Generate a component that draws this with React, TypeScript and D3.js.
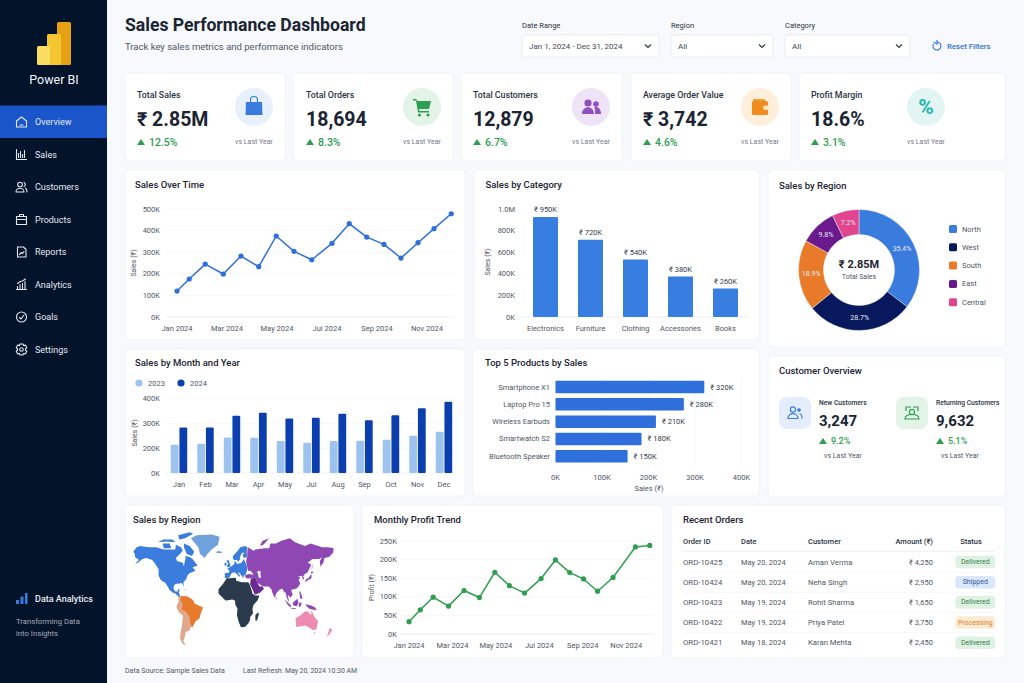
import * as d3 from 'd3';
import React from 'react';

// ---- data ----
const navItems = ['Overview', 'Sales', 'Customers', 'Products', 'Reports', 'Analytics', 'Goals', 'Settings'];

const kpiTitles = ['Total Sales', 'Total Orders', 'Total Customers', 'Average Order Value', 'Profit Margin'];
const kpiValues = ['₹ 2.85M', '18,694', '12,879', '₹ 3,742', '18.6%'];
const kpiDeltas = ['12.5%', '8.3%', '6.7%', '4.6%', '3.1%'];

const monthNames = ['Jan', 'Feb', 'Mar', 'Apr', 'May', 'Jun', 'Jul', 'Aug', 'Sep', 'Oct', 'Nov', 'Dec'];
const trendTickMonths = [0, 2, 4, 6, 8, 10];

// the trend lines carry 17 points over 12 months, so each point keeps its month position
const salesPointMonths = [0, 0.49, 1.13, 1.85, 2.56, 3.27, 3.97, 4.68, 5.39, 6.2, 6.89, 7.59, 8.28, 8.96, 9.64, 10.28, 10.97];
const salesOverTime = [120, 176, 245, 199, 282, 233, 375, 304, 265, 341, 432, 370, 336, 273, 344, 409, 478];
const profitPointMonths = [0, 0.52, 1.11, 1.82, 2.53, 3.24, 3.95, 4.62, 5.32, 6.08, 6.74, 7.4, 8.03, 8.68, 9.39, 10.42, 11.08];
const profitTrend = [33, 65, 99, 75, 117, 98, 166, 130, 110, 149, 199, 165, 148, 115, 152, 234, 238];

const categories = ['Electronics', 'Furniture', 'Clothing', 'Accessories', 'Books'];
const categoryLabels = [950, 720, 540, 380, 260];
// bars in the picture sit a little off their printed labels
const categoryBars = [926, 716, 533, 376, 265];

const regions = ['North', 'West', 'South', 'East', 'Central'];
const regionShare = [35.4, 28.7, 18.9, 9.8, 7.2];
const regionColors = ['#3a7bde', '#07195c', '#e87a2a', '#6a1a8c', '#e0458e'];

const barMonths = ['Jan', 'Feb', 'Mar', 'Apr', 'May', 'Jul', 'Aug', 'Sep', 'Oct', 'Nov', 'Dec'];
const sales2023 = [216, 220, 245, 244, 231, 224, 231, 232, 236, 252, 268];
const sales2024 = [285, 285, 331, 343, 320, 323, 339, 313, 333, 360, 385];
const barYTicks = [0, 200, 300, 400];

const products = ['Smartphone X1', 'Laptop Pro 15', 'Wireless Earbuds', 'Smartwatch S2', 'Bluetooth Speaker'];
const productLabels = [320, 280, 210, 180, 150];
const productBars = [320, 276, 216, 185, 155];

const orderIds = ['ORD-10425', 'ORD-10424', 'ORD-10423', 'ORD-10422', 'ORD-10421'];
const orderDates = ['May 20, 2024', 'May 20, 2024', 'May 19, 2024', 'May 19, 2024', 'May 18, 2024'];
const orderCustomers = ['Aman Verma', 'Neha Singh', 'Rohit Sharma', 'Priya Patel', 'Karan Mehta'];
const orderAmounts = ['₹ 4,250', '₹ 2,950', '₹ 1,650', '₹ 3,750', '₹ 2,450'];
const orderStatus = ['Delivered', 'Shipped', 'Delivered', 'Processing', 'Delivered'];

// rough continent outlines, lon/lat
const northAmerica = [
  [[-168, 66], [-162, 70], [-156, 71], [-141, 70], [-128, 70], [-115, 68], [-108, 68], [-95, 68], [-94, 72], [-85, 70], [-82, 67], [-87, 64], [-94, 60], [-92, 57], [-82, 55], [-80, 51], [-79, 55], [-77, 60], [-78, 62], [-70, 61], [-65, 59], [-60, 55], [-56, 52], [-65, 50], [-60, 46], [-66, 44], [-70, 43], [-74, 40], [-76, 35], [-81, 31], [-80, 25], [-82, 28], [-84, 30], [-90, 29], [-94, 29], [-97, 27], [-98, 22], [-95, 18], [-91, 18], [-90, 21], [-87, 21], [-89, 16], [-88, 15], [-87, 11], [-84, 9], [-85, 7.5], [-90, 11], [-95, 15], [-99, 16], [-105, 20], [-109, 26], [-113, 31], [-117, 32], [-121, 35], [-124, 40], [-124, 48], [-130, 54], [-135, 58], [-145, 60], [-152, 59], [-160, 55], [-165, 54], [-158, 58], [-165, 61], [-165, 64]],
  [[-80, 73], [-70, 71], [-62, 66], [-66, 62], [-75, 64], [-80, 70]],
  [[-117, 73], [-105, 73], [-102, 69], [-115, 69]],
  [[-90, 79], [-70, 81], [-64, 80], [-78, 77], [-88, 76]],
  [[-125, 74], [-116, 76], [-100, 76], [-95, 74], [-110, 74.5]],
  [[-84, 22], [-75, 20], [-78, 20], [-82, 22]],
];
const greenland = [[[-68, 77], [-58, 79], [-32, 79.5], [-18, 78], [-21, 72], [-32, 68], [-42, 62], [-44, 60], [-52, 64], [-55, 70], [-64, 75]]];
const europe = [
  [[-9, 37], [-9, 43], [-2, 43.5], [-1, 46], [-4.5, 48.5], [2, 51], [7, 53.5], [8.5, 57], [10.5, 56], [11, 54], [19, 54.5], [22, 57], [24, 59], [27, 55], [30, 50], [29, 45], [27, 41], [24, 40], [23, 36.5], [20, 40], [18, 42], [13.5, 45], [16, 41], [18, 40], [16, 38], [12, 42], [8, 44], [3, 43], [0, 39], [-2, 36.8], [-6, 36]],
  [[5, 59], [5, 62], [12, 66], [18, 70], [26, 71], [30, 70], [29, 65], [30, 61], [24, 60], [22, 63], [25, 65], [21, 65], [17, 61], [18, 59], [14, 56], [12, 58], [8, 58]],
  [[-5, 50], [1, 51], [0, 54], [-3, 58.5], [-6, 57], [-3, 54], [-5, 52]],
  [[-10, 52], [-6, 52], [-6, 55], [-9, 55]],
  [[-24, 65], [-14, 65], [-14, 66], [-22, 66.5]],
];
const asia = [
  [[26, 40], [28, 41], [33, 42], [41, 41], [37, 45], [34, 46], [31, 46], [30, 50], [28, 56], [29, 60], [30, 61], [30, 65], [31, 70], [41, 67], [44, 68], [60, 69], [68, 69], [70, 73], [80, 73], [88, 75], [104, 77], [113, 74], [130, 71], [140, 73], [160, 70], [170, 70], [180, 69], [179, 65], [172, 61], [164, 60], [162, 55], [157, 51], [156, 57], [160, 61], [155, 59], [143, 59], [135, 55], [141, 53], [135, 44], [130, 42], [127, 39], [129, 36], [126, 34.5], [126, 37], [125, 39.5], [121, 39], [118, 39], [122, 37], [119, 34], [122, 30], [120, 26], [115, 22], [110, 21], [106, 20], [109, 13], [105, 9], [100, 13], [103, 2], [100, 6], [98, 10], [97, 16], [94, 17], [91, 22], [87, 21], [80, 15], [78, 8], [73, 17], [72, 21], [67, 25], [57, 25], [52, 28], [48, 30], [44, 37], [36, 36.5], [30, 36], [27, 37]],
  [[130, 31], [136, 34], [141, 36], [142, 40], [140, 41], [137, 37], [132, 35]],
  [[140, 42], [145, 43.5], [142, 45.5]],
  [[142, 46], [143, 50], [143, 54], [142, 52]],
  [[80, 9.5], [82, 7], [80.5, 6]],
  [[120, 18], [122, 18], [124, 13], [126, 7], [122, 7], [121, 13]],
  [[95, 5.5], [100, 2], [106, -3], [105, -6], [100, -2]],
  [[109, 1], [117, 7], [119, 1], [116, -4], [110, -3]],
  [[105, -6.5], [114, -7], [114, -8.5], [106, -7.5]],
  [[119, -5], [120, 1], [125, 1], [122, -5]],
  [[131, -1], [141, -3], [148, -6], [150, -10], [143, -9], [138, -8], [133, -4]],
  [[52, 71], [56, 75], [68, 77], [58, 72]],
];
const arabia = [[[35, 29], [36, 36], [44, 37], [48, 30], [51, 25], [56, 25], [59, 22], [52, 16], [43, 13], [39, 21], [35, 28]]];
const africa = [
  [[-6, 36], [10, 37], [11, 33], [20, 31], [32, 31], [34, 28], [37, 21], [39, 15], [43, 12], [51, 12], [48, 5], [41, -2], [39, -8], [40, -15], [35, -20], [35, -24], [32, -29], [26, -34], [19, -34.5], [15, -27], [12, -17], [13, -8], [9, -1], [9, 4], [4, 6], [-4, 5], [-8, 4.5], [-13, 9], [-20, 15], [-20, 21], [-12, 29]],
  [[44, -17], [49, -13], [50, -16], [47, -25], [44, -25]],
];
// South America is drawn a little west of true, as in the picture
const southAmerica = [[[-90, 9], [-84, 12], [-74, 10.5], [-64, 5], [-62, 0], [-56, -2.5], [-47, -6], [-51, -15], [-53, -22], [-60, -26], [-65, -34], [-70, -35], [-69, -38], [-77, -41], [-78, -46], [-81, -51], [-77, -57], [-83, -54], [-87, -48], [-85, -38], [-83, -30], [-82, -18], [-88, -14], [-93, -6], [-92, -2], [-89, 3]]];
const brazil = [[[-85, 11], [-74, 10.5], [-64, 5], [-62, 0], [-56, -2.5], [-47, -6], [-51, -15], [-53, -22], [-60, -26], [-65, -34], [-69, -30], [-70, -20], [-77, -12], [-84, -9], [-82, -1], [-86, 5]]];
const oceania = [
  [[114, -22], [122, -18], [130, -12], [136, -12], [140, -17], [142, -11], [146, -19], [153, -26], [150, -37], [144, -38], [138, -35], [131, -32], [124, -33], [115, -34]],
  [[145, -41], [148, -41], [147, -43.5]],
  [[173, -35], [178, -38], [175, -41], [172, -44], [167, -46.5], [170, -43]],
];
const caspian = [[[47, 45], [53, 46], [53, 40], [54, 37], [50, 37], [49, 41]]];

const mapLayers = [
  { rings: northAmerica, fill: '#3b7ddd' },
  { rings: greenland, fill: '#6ea2dd' },
  { rings: europe, fill: '#3b7ddd' },
  { rings: asia, fill: '#8f48b3' },
  { rings: arabia, fill: '#6b2a92' },
  { rings: africa, fill: '#2b3a4c' },
  { rings: southAmerica, fill: '#dfa88e' },
  { rings: brazil, fill: '#e87a2c' },
  { rings: oceania, fill: '#ee8bb2' },
  { rings: caspian, fill: '#ffffff' },
];

const FONT = 'Roboto, Inter, sans-serif';
const INK = '#1b2433';
const MUTED = '#4f5866';
const GRID = '#f3f4f8';
const GREEN = '#2e9e4f';

// Miller-like raw projection, taller than wide to fit the card
const mapProjection = d3
  .geoProjection((l: number, p: number) => [l, 1.44 * Math.log(Math.tan(Math.PI / 4 + 0.4 * p))])
  .scale(33)
  .translate([230, 603.5]);
const ringLine = d3.line().curve(d3.curveLinearClosed);

function Txt({ x, y, size = 8, fill = MUTED, weight = 400, anchor = 'start', rotate, children }: any) {
  return (
    <text
      x={x}
      y={y}
      fontSize={size}
      fill={fill}
      fontWeight={weight}
      textAnchor={anchor}
      dominantBaseline="central"
      transform={rotate ? `rotate(${rotate} ${x} ${y})` : undefined}
    >
      {children}
    </text>
  );
}

function Card({ x, y, w, h }: any) {
  return <rect x={x} y={y} width={w} height={h} rx={4} fill="#fff" stroke="#eef1f5" strokeWidth={0.8} />;
}

function NavIcon({ name, y }: any) {
  const common = { fill: 'none', stroke: '#e4e9f2', strokeWidth: 1.1, strokeLinejoin: 'round' as const, strokeLinecap: 'round' as const };
  let inner: any = null;
  if (name === 'Overview') inner = <path d="M-5 -1 L0 -5 L5 -1 V5 H-5 Z M-1.5 3 H1.5" {...common} />;
  if (name === 'Sales') inner = <path d="M-5 -5 V5 H5 M-3 3 V-1 M-1 3 V-3 M1 3 V0 M3 3 V-4" {...common} />;
  if (name === 'Customers')
    inner = (
      <g {...common}>
        <circle cx={-1.5} cy={-2.5} r={2.3} />
        <path d="M-5.5 5 C-5.5 0 2.5 0 2.5 5 Z M2.5 -4.5 A2.2 2.2 0 0 1 2.5 -0.5 M4 1 C5.5 2 5.5 3 5.5 5" />
      </g>
    );
  if (name === 'Products') inner = <path d="M-5 -3 H5 V5 H-5 Z M-5 0 H5 M-2 -3 V-5 H2 V-3" {...common} />;
  if (name === 'Reports') inner = <path d="M-4 -5 H2 L4.5 -2.5 V5 H-4 Z M-2 2.5 L0 0.5 L1 1.5 L2.5 -0.5" {...common} />;
  if (name === 'Analytics') inner = <path d="M-5 5 H5 M-4 5 V2 M-1.5 5 V0 M1 5 V-1 M3.5 5 V-3 M-4 -1 L-1 -3 L1 -3.5 L4 -5.5" {...common} />;
  if (name === 'Goals')
    inner = (
      <g {...common}>
        <circle r={5} />
        <path d="M-2 0.5 L-0.5 2 L2.5 -2" />
      </g>
    );
  if (name === 'Settings')
    inner = (
      <g {...common}>
        <path d="M-1.5 -5.5 H1.5 L2 -4 L3.8 -4.4 L5.3 -1.8 L4 -0.5 V0.5 L5.3 1.8 L3.8 4.4 L2 4 L1.5 5.5 H-1.5 L-2 4 L-3.8 4.4 L-5.3 1.8 L-4 0.5 V-0.5 L-5.3 -1.8 L-3.8 -4.4 L-2 -4 Z" />
        <circle r={1.8} />
      </g>
    );
  return <g transform={`translate(21.5 ${y})`}>{inner}</g>;
}

function KpiIcon({ i, cx, cy }: any) {
  const bg = ['#e8f0fc', '#e4f3e7', '#efe4f7', '#fdefdc', '#e2f5f3'][i];
  let glyph: any = null;
  if (i === 0)
    glyph = (
      <g>
        <path d="M-8 -5 H8 L8.5 8 H-8.5 Z" fill="#3a7bde" />
        <path d="M-3.5 -5 V-7 A3.5 3.5 0 0 1 3.5 -7 V-5" fill="none" stroke="#3a7bde" strokeWidth={1.2} />
      </g>
    );
  if (i === 1)
    glyph = (
      <g fill="#2e9e4f">
        <path d="M-9 -8 H-6 L-4.5 -6 H9 L7 2 H-3 L-2.5 4 H7 V5.5 H-4 L-6 -6.5 H-9 Z" />
        <circle cx={-2.5} cy={8} r={1.6} />
        <circle cx={6} cy={8} r={1.6} />
      </g>
    );
  if (i === 2)
    glyph = (
      <g fill="#9150bd">
        <circle cx={-3} cy={-4} r={3.6} />
        <circle cx={5} cy={-3} r={2.8} />
        <path d="M-9 7 C-9 -2 3 -2 3 7 Z M4 7 C4.5 3 4 1 3 0.5 C6 -1 10 1 10 7 Z" />
      </g>
    );
  if (i === 3)
    glyph = (
      <g>
        <path d="M-7 -8 H5 V-5 H-7 Z" fill="#f0a030" />
        <rect x={-8} y={-6} width={16} height={14} rx={1.5} fill="#f08c1e" />
        <rect x={3} y={-1.5} width={6} height={4.5} rx={2} fill="#fde3bd" />
      </g>
    );
  if (i === 4)
    glyph = (
      <text fontSize={21} fontWeight={700} fill="#1fb5ad" textAnchor="middle" dominantBaseline="central">
        %
      </text>
    );
  return (
    <g transform={`translate(${cx} ${cy})`}>
      <circle r={19} fill={bg} />
      {glyph}
    </g>
  );
}

function Delta({ x, y, text, size = 10.5 }: any) {
  return (
    <g>
      <path d={`M${x} ${y + 3} L${x + 4} ${y - 3} L${x + 8} ${y + 3} Z`} fill={GREEN} />
      <Txt x={x + 12} y={y} size={size} fill={GREEN} weight={500}>
        {text}
      </Txt>
    </g>
  );
}

function TrendChart(props: any) {
  const { months, values, domainMax, top, bottom, left, right, xLeft, xRight, labelX, titleX, title, color, step, dotR, axisY } = props;
  const x = d3.scaleLinear().domain([0, 11]).range([xLeft, xRight]);
  const y = d3.scaleLinear().domain([0, domainMax]).range([bottom, top]);
  const line = d3
    .line<number>()
    .x((_, i) => x(months[i]))
    .y((d) => y(d));
  return (
    <g>
      {d3.range(0, domainMax + 1, step).map((t) => (
        <g key={t}>
          <line x1={left} x2={right} y1={y(t)} y2={y(t)} stroke={t === 0 ? '#e3e7ed' : GRID} strokeWidth={0.7} />
          <Txt x={labelX} y={y(t)} size={7.5} anchor="end">
            {t}K
          </Txt>
        </g>
      ))}
      {trendTickMonths.map((m) => (
        <Txt key={m} x={x(m)} y={axisY} size={7.5} anchor="middle">
          {monthNames[m]} 2024
        </Txt>
      ))}
      <Txt x={titleX} y={(top + bottom) / 2} size={7} anchor="middle" rotate={-90}>
        {title}
      </Txt>
      <path d={line(values) as string} fill="none" stroke={color} strokeWidth={1.5} strokeLinejoin="round" />
      {values.map((v: number, i: number) => (
        <circle key={i} cx={x(months[i])} cy={y(v)} r={dotR} fill={color} />
      ))}
    </g>
  );
}

function CategoryBars() {
  const x = d3.scaleBand().domain(categories).range([523, 748]).paddingInner(0.444).paddingOuter(0.222);
  const y = d3.scaleLinear().domain([0, 1000]).range([317, 209]);
  return (
    <g>
      {y.ticks(5).map((t) => (
        <Txt key={t} x={515} y={y(t)} size={7.5} anchor="end">
          {t === 1000 ? '1.0M' : `${t}K`}
        </Txt>
      ))}
      <line x1={520} x2={748} y1={317} y2={317} stroke="#e3e7ed" strokeWidth={0.7} />
      <Txt x={488} y={262} size={7} anchor="middle" rotate={-90}>
        Sales (₹)
      </Txt>
      {categories.map((c, i) => (
        <g key={c}>
          <rect x={x(c)} y={y(categoryBars[i])} width={x.bandwidth()} height={317 - y(categoryBars[i])} rx={1} fill="#377ee0" />
          <Txt x={x(c)! + x.bandwidth() / 2} y={y(categoryBars[i]) - 7} size={7.5} fill="#333d4d" anchor="middle">
            ₹ {categoryLabels[i]}K
          </Txt>
          <Txt x={x(c)! + x.bandwidth() / 2} y={328} size={7.5} anchor="middle">
            {c}
          </Txt>
        </g>
      ))}
    </g>
  );
}

function RegionDonut() {
  const pie = d3.pie<number>().sort(null)(regionShare);
  const arc = d3.arc<any>().innerRadius(35.5).outerRadius(60.5);
  const labelArc = d3.arc<any>().innerRadius(48).outerRadius(48);
  return (
    <g>
      <g transform="translate(859 270)">
        {pie.map((s, i) => (
          <path key={i} d={arc(s) as string} fill={regionColors[i]} stroke="#fff" strokeWidth={0.4} />
        ))}
        {pie.map((s, i) => {
          const [cx, cy] = labelArc.centroid(s);
          return (
            <Txt key={i} x={cx} y={cy} size={7} fill={i === 4 ? '#fbe3ee' : '#e6ecf7'} anchor="middle">
              {regionShare[i]}%
            </Txt>
          );
        })}
        <Txt x={0} y={-6} size={11} fill={INK} weight={700} anchor="middle">
          ₹ 2.85M
        </Txt>
        <Txt x={0} y={7} size={7} anchor="middle">
          Total Sales
        </Txt>
      </g>
      {regions.map((r, i) => {
        const ly = 229 + i * 18.3;
        return (
          <g key={r}>
            <rect x={949} y={ly - 4} width={8} height={8} rx={1.5} fill={regionColors[i]} />
            <Txt x={962} y={ly} size={7.5}>
              {r}
            </Txt>
          </g>
        );
      })}
    </g>
  );
}

function MonthYearBars() {
  const x = d3.scaleBand().domain(barMonths).range([165.75, 457.25]).paddingInner(0.38).paddingOuter(0.19);
  const inner = d3.scaleBand().domain(['2023', '2024']).range([0, x.bandwidth()]).paddingInner(0.1);
  // the reference axis spaces 0K, 200K, 300K and 400K evenly
  const y = d3.scaleLinear().domain(barYTicks).range([473, 448.7, 423.7, 398]);
  return (
    <g>
      <circle cx={139} cy={383} r={3.6} fill="#9cc2ef" />
      <Txt x={148} y={383} size={7.5}>
        2023
      </Txt>
      <circle cx={181} cy={383} r={3.6} fill="#0b3fb0" />
      <Txt x={190} y={383} size={7.5}>
        2024
      </Txt>
      {barYTicks.map((t) => (
        <g key={t}>
          <line x1={165} x2={455} y1={y(t)} y2={y(t)} stroke={t === 0 ? '#e3e7ed' : GRID} strokeWidth={0.6} />
          <Txt x={160} y={y(t)} size={7.5} anchor="end">
            {t}K
          </Txt>
        </g>
      ))}
      <Txt x={135} y={433} size={7} anchor="middle" rotate={-90}>
        Sales (₹)
      </Txt>
      {barMonths.map((m, i) => (
        <g key={m} transform={`translate(${x(m)} 0)`}>
          <rect x={inner('2023')} y={y(sales2023[i])} width={inner.bandwidth()} height={473 - y(sales2023[i])} rx={1} fill="#9cc2ef" />
          <rect x={inner('2024')} y={y(sales2024[i])} width={inner.bandwidth()} height={473 - y(sales2024[i])} rx={1} fill="#0b3fb0" />
          <Txt x={x.bandwidth() / 2} y={484} size={7.5} anchor="middle">
            {m}
          </Txt>
        </g>
      ))}
    </g>
  );
}

function ProductBars() {
  const x = d3.scaleLinear().domain([0, 400]).range([555.5, 741.5]);
  const y = d3.scaleBand().domain(products).range([378.4, 464.9]).paddingInner(0.28).paddingOuter(0.14);
  return (
    <g>
      {x.ticks(4).map((t) => (
        <g key={t}>
          <line x1={x(t)} x2={x(t)} y1={378} y2={467} stroke={GRID} strokeWidth={0.7} />
          <Txt x={x(t)} y={477} size={7.5} anchor="middle">
            {t}K
          </Txt>
        </g>
      ))}
      <Txt x={649} y={488} size={7.5} anchor="middle">
        Sales (₹)
      </Txt>
      {products.map((p, i) => (
        <g key={p}>
          <rect x={x(0)} y={y(p)} width={x(productBars[i]) - x(0)} height={y.bandwidth()} rx={0.8} fill="#2f6fdc" />
          <Txt x={550} y={y(p)! + y.bandwidth() / 2} size={7.5} anchor="end">
            {p}
          </Txt>
          <Txt x={x(productBars[i]) + 6} y={y(p)! + y.bandwidth() / 2} size={7.5} fill="#333d4d">
            ₹ {productLabels[i]}K
          </Txt>
        </g>
      ))}
    </g>
  );
}

function WorldMap() {
  return (
    <g>
      {mapLayers.map((layer, i) => (
        <path
          key={i}
          d={layer.rings.map((r) => ringLine(r.map((p) => mapProjection(p as [number, number]) as [number, number]))).join(' ')}
          fill={layer.fill}
        />
      ))}
    </g>
  );
}

function CustomerOverview() {
  return (
    <g>
      <rect x={779} y={397} width={32} height={32} rx={8} fill="#e3edfb" />
      <g transform="translate(795 413)" fill="none" stroke="#3a7bde" strokeWidth={1.2}>
        <circle cx={-2} cy={-3.5} r={2.6} />
        <circle cx={4} cy={-3} r={1.2} fill="#3a7bde" />
        <path d="M-7 5.5 C-7 -1 3 -1 3 5.5 Z M4.5 0.5 C6.5 1 7 3 7 5.5" />
      </g>
      <rect x={896} y={397} width={32} height={32} rx={8} fill="#e4f3e7" />
      <g transform="translate(912 413)" fill="none" stroke="#2e9e4f" strokeWidth={1.2}>
        <circle cy={-1} r={2.6} />
        <path d="M-7 6 H7 C7 2 3 1.5 0 1.5 C-3 1.5 -7 2 -7 6 Z M-6 -2 V-6 H-1 M6 -2 V-6 H1" />
      </g>
      <Txt x={819} y={403} size={6.7} fill="#2a3342" weight={500}>
        New Customers
      </Txt>
      <Txt x={819} y={421} size={15} fill={INK} weight={700}>
        3,247
      </Txt>
      <Delta x={819} y={441} text="9.2%" size={9} />
      <Txt x={843} y={456} size={7} anchor="middle">
        vs Last Year
      </Txt>
      <Txt x={936} y={403} size={6.7} fill="#2a3342" weight={500}>
        Returning Customers
      </Txt>
      <Txt x={936} y={421} size={15} fill={INK} weight={700}>
        9,632
      </Txt>
      <Delta x={936} y={441} text="5.1%" size={9} />
      <Txt x={960} y={456} size={7} anchor="middle">
        vs Last Year
      </Txt>
    </g>
  );
}

function OrdersTable() {
  const rowY = d3.scalePoint().domain(orderIds).range([562, 642.7]);
  const badgeBg: any = { Delivered: '#dff1e2', Shipped: '#dbe7fa', Processing: '#fdebd3' };
  const badgeInk: any = { Delivered: '#2f7d46', Shipped: '#2d5a9e', Processing: '#e07b1f' };
  return (
    <g>
      <Txt x={683} y={541} size={7.5} fill="#2a3342" weight={500}>Order ID</Txt>
      <Txt x={741} y={541} size={7.5} fill="#2a3342" weight={500}>Date</Txt>
      <Txt x={808} y={541} size={7.5} fill="#2a3342" weight={500}>Customer</Txt>
      <Txt x={933} y={541} size={7.5} fill="#2a3342" weight={500} anchor="end">Amount (₹)</Txt>
      <Txt x={971} y={541} size={7.5} fill="#2a3342" weight={500} anchor="middle">Status</Txt>
      <line x1={683} x2={995} y1={551.5} y2={551.5} stroke="#e9ecf1" strokeWidth={0.7} />
      {orderIds.map((id, i) => {
        const ry = rowY(id)!;
        return (
          <g key={id}>
            {i < 4 && <line x1={683} x2={995} y1={ry + 10} y2={ry + 10} stroke={GRID} strokeWidth={0.7} />}
            <Txt x={683} y={ry} size={7.8}>{id}</Txt>
            <Txt x={741} y={ry} size={7.5}>{orderDates[i]}</Txt>
            <Txt x={808} y={ry} size={7.7}>{orderCustomers[i]}</Txt>
            <Txt x={933} y={ry} size={7.5} anchor="end">{orderAmounts[i]}</Txt>
            <rect x={955.3} y={ry - 6.3} width={40} height={12.6} rx={4} fill={badgeBg[orderStatus[i]]} />
            <Txt x={975.3} y={ry} size={7} fill={badgeInk[orderStatus[i]]} anchor="middle">{orderStatus[i]}</Txt>
          </g>
        );
      })}
    </g>
  );
}

function Filter({ x, w, label, value }: any) {
  return (
    <g>
      <Txt x={x} y={25} size={7.5} fill="#2a3342">{label}</Txt>
      <rect x={x} y={35} width={w} height={22} rx={3} fill="#fff" stroke="#e5e9ef" strokeWidth={0.8} />
      <Txt x={x + 7} y={46} size={8} fill="#3e4858">{value}</Txt>
      <path d={`M${x + w - 14} 44.5 L${x + w - 11} 47.5 L${x + w - 8} 44.5`} fill="none" stroke="#2a3342" strokeWidth={1.1} />
    </g>
  );
}

const kpiCards = [
  { x: 125, w: 160, tx: 137, ix: 254 },
  { x: 293, w: 160, tx: 306, ix: 422 },
  { x: 461, w: 161, tx: 473, ix: 591 },
  { x: 631, w: 160, tx: 643, ix: 760 },
  { x: 799, w: 206, tx: 811, ix: 926 },
];

export default function App() {
  return (
    <svg
      width={1024}
      height={683}
      viewBox="0 0 1024 683"
      fontFamily={FONT}
      style={{ position: 'absolute', left: 0, top: 0, display: 'block' }}
    >
      <rect width={1024} height={683} fill="#f7f9fc" />

      {/* sidebar */}
      <rect width={107} height={683} fill="#03132a" />
      <rect x={57} y={22} width={14} height={43} rx={1.5} fill="#e6a014" />
      <rect x={47} y={34} width={14} height={31} rx={1.5} fill="#f3c531" />
      <rect x={37} y={46} width={13} height={19} rx={1.5} fill="#f9dc62" />
      <Txt x={54} y={79} size={12.5} fill="#f2f5fa" anchor="middle">Power BI</Txt>
      <rect y={105.5} width={107} height={32.5} fill="#1a55c9" />
      {navItems.map((n, i) => {
        const ny = 122 + i * 32.5;
        return (
          <g key={n}>
            <NavIcon name={n} y={ny} />
            <Txt x={35} y={ny} size={9} fill="#e4e9f2">{n}</Txt>
          </g>
        );
      })}
      <path d="M16 604 V600 H19 V604 Z M20.5 604 V596.5 H23.5 V604 Z M25 604 V593 H27.5 V604 Z" fill="#3a7bde" />
      <Txt x={35} y={599} size={9} fill="#e9edf4" weight={500}>Data Analytics</Txt>
      <Txt x={16} y={621} size={7.7} fill="#a4abb8">Transforming Data</Txt>
      <Txt x={16} y={633} size={7.7} fill="#a4abb8">into Insights</Txt>

      {/* header */}
      <Txt x={125} y={25} size={17.6} fill={INK} weight={700}>Sales Performance Dashboard</Txt>
      <Txt x={125} y={46} size={9.5}>Track key sales metrics and performance indicators</Txt>
      <Filter x={522} w={137} label="Date Range" value="Jan 1, 2024 - Dec 31, 2024" />
      <Filter x={671} w={102} label="Region" value="All" />
      <Filter x={785} w={125} label="Category" value="All" />
      <path d="M933.5 44 A4 4 0 1 0 937 42 M937 40 V44 L933.5 42" fill="none" stroke="#2f6fe0" strokeWidth={1.1} />
      <Txt x={947} y={46} size={7.8} fill="#2f6fe0" weight={500}>Reset Filters</Txt>

      {/* kpi row */}
      {kpiCards.map((c, i) => (
        <g key={i}>
          <Card x={c.x} y={73} w={c.w} h={88} />
          <Txt x={c.tx} y={95} size={8.8} fill="#2a3342" weight={500}>{kpiTitles[i]}</Txt>
          <Txt x={c.tx} y={119} size={19.5} fill={INK} weight={700}>{kpiValues[i]}</Txt>
          <Delta x={c.tx} y={142} text={kpiDeltas[i]} />
          <KpiIcon i={i} cx={c.ix} cy={107} />
          <Txt x={c.ix} y={142} size={7} fill="#717b8a" anchor="middle">vs Last Year</Txt>
        </g>
      ))}

      {/* cards */}
      <Card x={125} y={170} w={340} h={170} />
      <Card x={474} y={170} w={285} h={170} />
      <Card x={768} y={170} w={237} h={177} />
      <Card x={125} y={349} w={340} h={147} />
      <Card x={473} y={349} w={286} h={147} />
      <Card x={768} y={356} w={237} h={141} />
      <Card x={125} y={505} w={229} h={153} />
      <Card x={362} y={505} w={301} h={153} />
      <Card x={671} y={505} w={334} h={153} />

      <Txt x={135} y={184.5} size={9.5} fill={INK} weight={500}>Sales Over Time</Txt>
      <Txt x={485.5} y={184.5} size={9.5} fill={INK} weight={500}>Sales by Category</Txt>
      <Txt x={779} y={185.5} size={9.5} fill={INK} weight={500}>Sales by Region</Txt>
      <Txt x={135} y={362.5} size={9.5} fill={INK} weight={500}>Sales by Month and Year</Txt>
      <Txt x={485} y={362.5} size={9.5} fill={INK} weight={500}>Top 5 Products by Sales</Txt>
      <Txt x={779} y={370.5} size={9.5} fill={INK} weight={500}>Customer Overview</Txt>
      <Txt x={133} y={519.5} size={9.5} fill={INK} weight={500}>Sales by Region</Txt>
      <Txt x={374} y={519.5} size={9.5} fill={INK} weight={500}>Monthly Profit Trend</Txt>
      <Txt x={683} y={519.5} size={9.5} fill={INK} weight={500}>Recent Orders</Txt>

      <TrendChart
        months={salesPointMonths}
        values={salesOverTime}
        domainMax={500}
        step={100}
        top={209}
        bottom={317}
        left={166}
        right={455}
        xLeft={177}
        xRight={452}
        labelX={160}
        titleX={134}
        title="Sales (₹)"
        color="#2f6fdc"
        dotR={2.6}
        axisY={328}
      />
      <CategoryBars />
      <RegionDonut />
      <MonthYearBars />
      <ProductBars />
      <CustomerOverview />
      <WorldMap />
      <TrendChart
        months={profitPointMonths}
        values={profitTrend}
        domainMax={250}
        step={50}
        top={541}
        bottom={634}
        left={400}
        right={654}
        xLeft={409}
        xRight={648}
        labelX={397}
        titleX={372}
        title="Profit (₹)"
        color="#2e9e4f"
        dotR={2.6}
        axisY={645}
      />
      <OrdersTable />

      <Txt x={125} y={671} size={7}>Data Source: Sample Sales Data</Txt>
      <Txt x={243} y={671} size={6.9}>Last Refresh: May 20, 2024 10:30 AM</Txt>
    </svg>
  );
}
